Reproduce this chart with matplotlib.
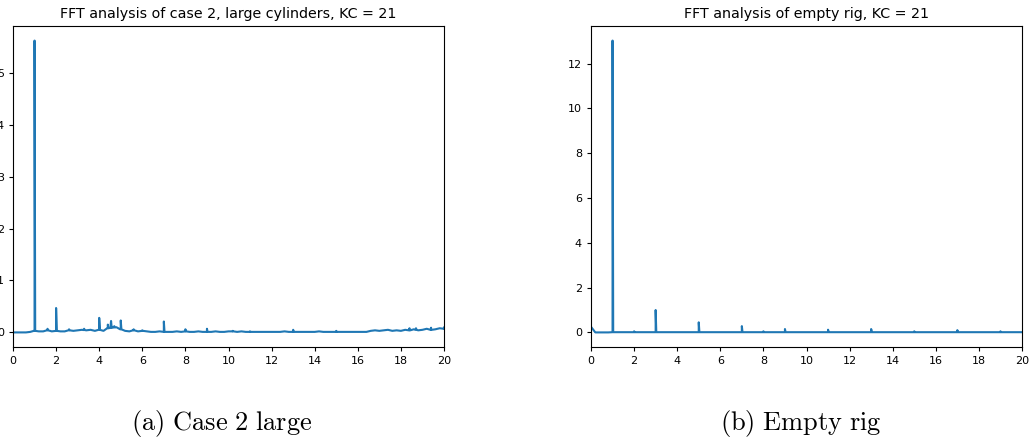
import numpy as np
import matplotlib.pyplot as plt

# ---- data -----------------------------------------------------------
# baseline (noise floor) every 0.2 Hz, 0 .. 20 Hz
base_grid = np.arange(0, 20.01, 0.2)

case2_floor = [
    0.00, 0.00, 0.00, 0.00, 0.01, 0.03, 0.02, 0.02, 0.04, 0.02,
    0.03, 0.02, 0.02, 0.04, 0.03, 0.04, 0.05, 0.04, 0.05, 0.03,
    0.05, 0.03, 0.08, 0.09, 0.10, 0.06, 0.03, 0.02, 0.04, 0.02,
    0.03, 0.02, 0.01, 0.01, 0.02, 0.01, 0.01, 0.01, 0.02, 0.01,
    0.02, 0.01, 0.01, 0.02, 0.01, 0.01, 0.01, 0.02, 0.01, 0.01,
    0.02, 0.02, 0.01, 0.02, 0.01, 0.01, 0.01, 0.01, 0.01, 0.01,
    0.01, 0.01, 0.01, 0.02, 0.01, 0.01, 0.01, 0.01, 0.01, 0.01,
    0.01, 0.02, 0.01, 0.01, 0.01, 0.01, 0.01, 0.01, 0.01, 0.01,
    0.01, 0.01, 0.01, 0.03, 0.04, 0.03, 0.04, 0.05, 0.03, 0.04,
    0.03, 0.05, 0.04, 0.06, 0.04, 0.05, 0.07, 0.05, 0.06, 0.08,
    0.07,
]
case2_peak_f = [1.0, 1.6, 2.0, 2.6, 3.3, 4.0, 4.4, 4.55, 4.7, 5.0,
                5.6, 6.0, 7.0, 8.0, 9.0, 10.2, 11.0, 13.0, 15.0,
                18.4, 18.7, 19.4, 20.0]
case2_peak_a = [5.62, 0.07, 0.47, 0.06, 0.07, 0.28, 0.15, 0.22, 0.12, 0.23,
                0.06, 0.04, 0.21, 0.06, 0.07, 0.03, 0.02, 0.05, 0.03,
                0.08, 0.08, 0.09, 0.10]

empty_floor = [0.25, 0.00, 0.00, 0.00, 0.00] + [0.01] * 96
empty_peak_f = [1.0, 2.0, 3.0, 5.0, 7.0, 8.0, 9.0, 11.0, 13.0, 15.0, 17.0, 19.0]
empty_peak_a = [13.03, 0.05, 1.00, 0.45, 0.28, 0.05, 0.15, 0.12, 0.15, 0.05,
                0.10, 0.05]

titles = ["FFT analysis of case 2, large cylinders, KC = 21",
          "FFT analysis of empty rig, KC = 21"]
captions = ["(a) Case 2 large", "(b) Empty rig"]


def spectrum(floor, peak_f, peak_a, half=0.03):
    f = list(base_grid)
    a = list(floor)
    for pf, pa in zip(peak_f, peak_a):
        b = np.interp(pf, base_grid, floor)
        f += [pf - half, pf, pf + half]
        a += [b, pa, b]
    order = np.argsort(f, kind="stable")
    return np.array(f)[order], np.array(a)[order]


plt.rcParams["mathtext.fontset"] = "cm"
fig = plt.figure(figsize=(10.32, 4.41), dpi=100)

ax_pos = [[13 / 1032, 94 / 441, 431 / 1032, 321 / 441],
          [591 / 1032, 94 / 441, 431 / 1032, 321 / 441]]
data = [(case2_floor, case2_peak_f, case2_peak_a),
        (empty_floor, empty_peak_f, empty_peak_a)]
yticks = [np.arange(0, 6, 1), np.arange(0, 13, 2)]
caption_x = [222 / 1032, 801 / 1032]

for i in range(2):
    ax = fig.add_axes(ax_pos[i])
    f, a = spectrum(*data[i])
    ax.plot(f, a, color="#1f77b4", lw=1.5)
    ax.set_xlim(0, 20)
    ax.set_xticks(np.arange(0, 21, 2))
    ax.set_yticks(yticks[i])
    ax.tick_params(labelsize=8, length=3)
    ax.set_title(titles[i], fontsize=10.3, pad=6)
    for s in ax.spines.values():
        s.set_linewidth(0.8)
    fig.text(caption_x[i], 1 - 430 / 441,
             r"$\mathrm{" + captions[i].replace(" ", r"\ ") + "}$",
             ha="center", va="baseline", fontsize=19)

fig.savefig("out.png", dpi=100)
